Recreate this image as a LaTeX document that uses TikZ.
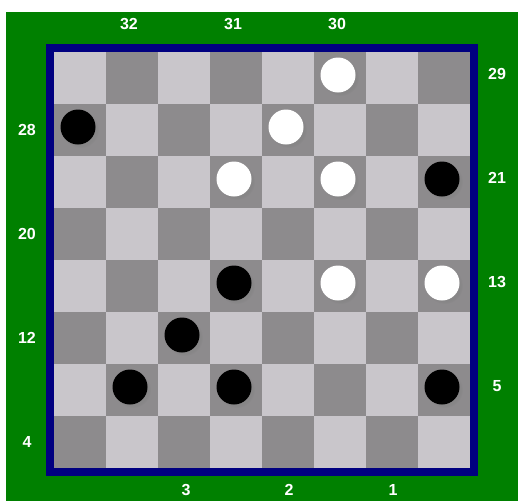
\documentclass[tikz,border=0pt]{standalone}
\usepackage{fontspec}
\setmainfont{Liberation Sans}
\usetikzlibrary{shadows}
\definecolor{boardgreen}{HTML}{008000}
\definecolor{boardnavy}{HTML}{000080}
\definecolor{lightsq}{HTML}{C9C6CB}
\definecolor{darksq}{HTML}{8D8B8D}
\tikzset{
  numlabel/.style={text=white, font=\fontsize{16}{19}\selectfont\bfseries, inner sep=0pt},
  piece/.style={circle, minimum size=35pt, inner sep=0pt,
    circular drop shadow={shadow xshift=2.5pt, shadow yshift=-2.5pt, opacity=.45, shadow scale=1.05}},
  blackman/.style={piece, fill=black},
  whiteman/.style={piece, fill=white}
}

\begin{document}
\begin{tikzpicture}[x=1pt, y=-1pt]
  \useasboundingbox (0,0) rectangle (518,501);
  \fill[white] (0,0) rectangle (518,501);
  \fill[boardgreen] (6,12) rectangle (518,501);
  \fill[boardnavy] (46,44) rectangle (478,476);
  % squares
  \foreach \r in {0,...,7}
    \foreach \c in {0,...,7} {
      \pgfmathparse{mod(\r+\c,2)==0 ? "lightsq" : "darksq"}
      \fill[\pgfmathresult] ({54+52*\c},{52+52*\r}) rectangle ++(52,52);
    }
  % pieces
  \foreach \n/\c/\r in {28/0/1, 21/7/2, 15/3/4, 11/2/5, 8/1/6, 7/3/6, 5/7/6}
    \node[blackman] (p\n) at ({78+52*\c},{75+52*\r}) {};
  \foreach \n/\c/\r in {30/5/0, 26/4/1, 23/3/2, 22/5/2, 14/5/4, 13/7/4}
    \node[whiteman] (p\n) at ({78+52*\c},{75+52*\r}) {};
  % numbers
  \node[numlabel] (n32) at (129,24) {32};
  \node[numlabel] (n31) at (233,24) {31};
  \node[numlabel] (n30) at (337,24) {30};
  \node[numlabel] (n29) at (497,74) {29};
  \node[numlabel] (n21) at (497,178) {21};
  \node[numlabel] (n13) at (497,282) {13};
  \node[numlabel] (n5) at (497,386) {5};
  \node[numlabel] (n28) at (27,130) {28};
  \node[numlabel] (n20) at (27,234) {20};
  \node[numlabel] (n12) at (27,338) {12};
  \node[numlabel] (n4) at (27,442) {4};
  \node[numlabel] (n3) at (186,490) {3};
  \node[numlabel] (n2) at (289,490) {2};
  \node[numlabel] (n1) at (393,490) {1};
\end{tikzpicture}
\end{document}
